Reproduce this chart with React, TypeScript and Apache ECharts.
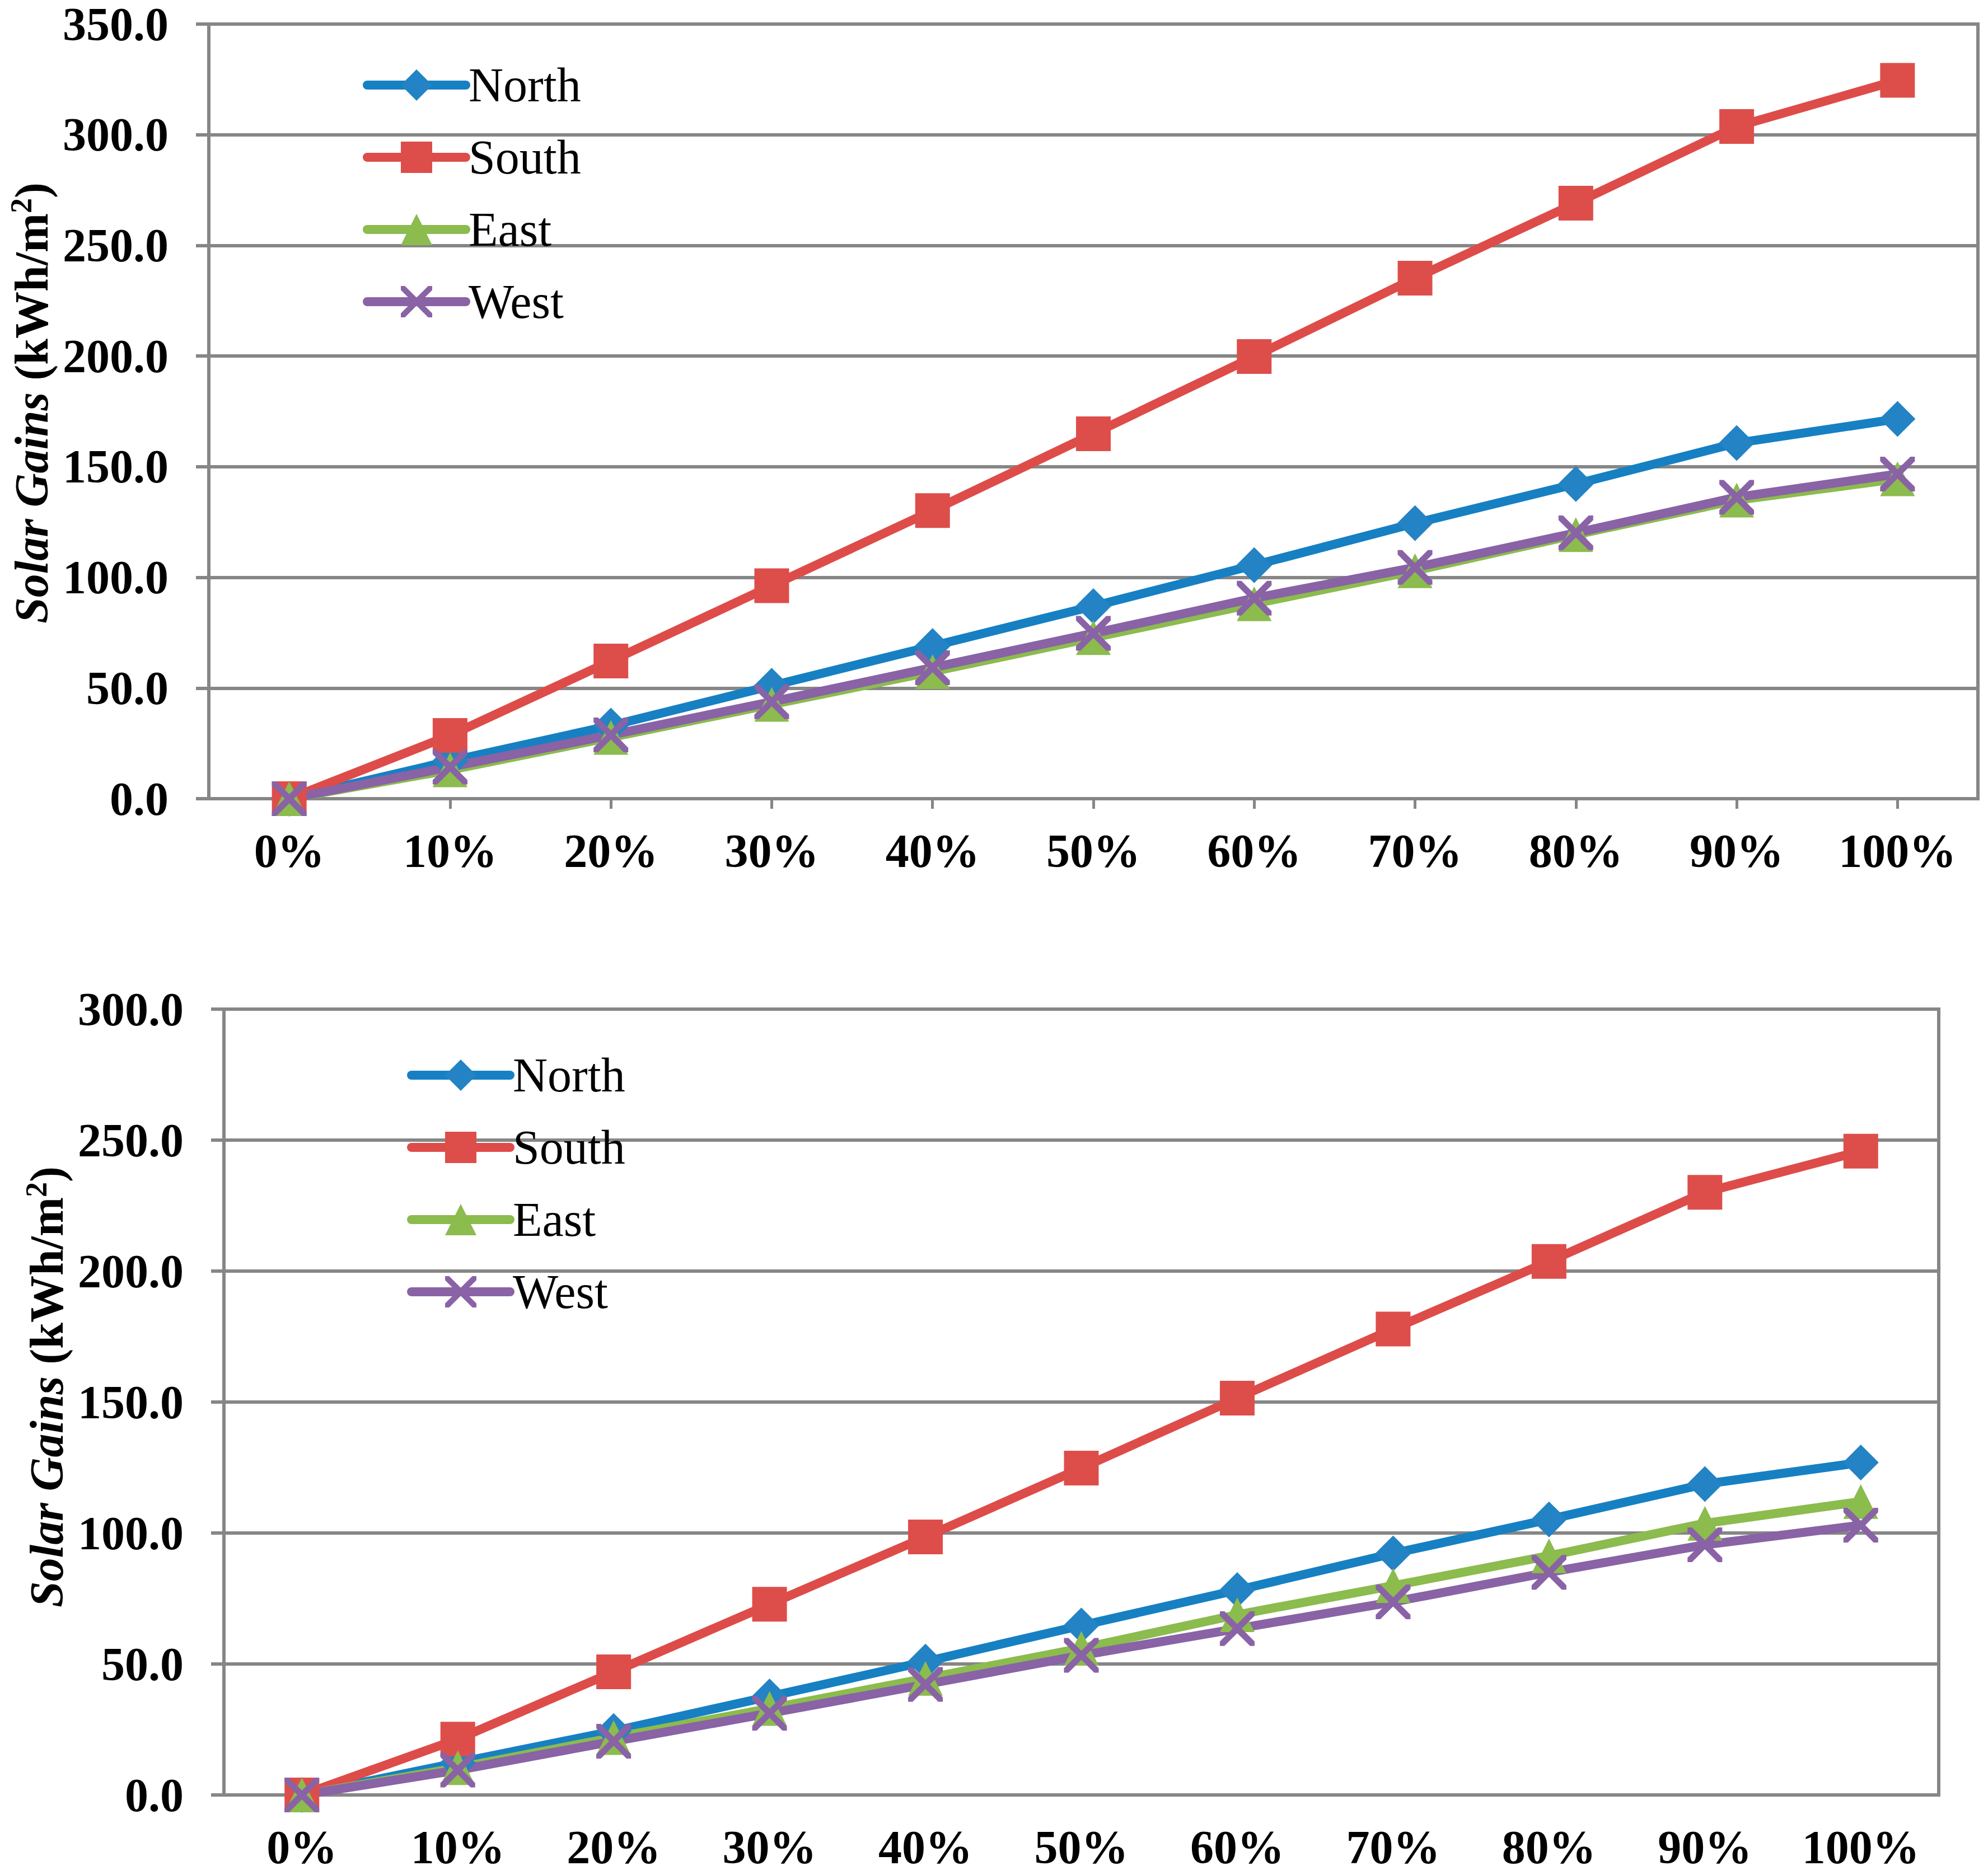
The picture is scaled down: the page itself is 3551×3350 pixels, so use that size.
import React, { useEffect, useRef } from "react";
import * as echarts from "echarts";

const categories = ["0%", "10%", "20%", "30%", "40%", "50%", "60%", "70%", "80%", "90%", "100%"];
const seriesNames = ["North", "South", "East", "West"];

// Top chart values (kWh/m²)
const topNorth = [0, 17.0, 33.0, 51.0, 69.0, 87.0, 105.5, 124.5, 142.2, 160.7, 171.6];
const topSouth = [0, 28.6, 62.2, 96.2, 130.2, 164.9, 199.8, 235.2, 269.1, 303.7, 324.6];
const topEast = [0, 13.0, 27.7, 42.6, 57.4, 72.8, 88.1, 103.0, 119.3, 134.9, 144.5];
const topWest = [0, 14.3, 28.8, 43.8, 59.2, 74.7, 90.6, 104.5, 120.1, 136.2, 146.7];

// Bottom chart values (kWh/m²)
const botNorth = [0, 12.3, 24.4, 37.6, 50.9, 64.7, 78.2, 92.2, 105.2, 118.7, 126.9];
const botSouth = [0, 21.3, 47.0, 72.8, 98.5, 124.8, 151.5, 177.9, 203.7, 230.1, 245.8];
const botEast = [0, 10.4, 21.9, 33.0, 44.5, 56.0, 68.8, 79.9, 91.3, 103.7, 112.0];
const botWest = [0, 9.5, 20.5, 31.2, 42.2, 53.3, 63.5, 73.7, 85.0, 95.5, 103.0];

const topYMax = 350;
const botYMax = 300;
const yInterval = 50;

const FONT = '"Liberation Serif", "Times New Roman", serif';
const GRAY = "#868686";
const X_PATH =
  "path://M0 0 L13 0 L50 37 L87 0 L100 0 L100 13 L63 50 L100 87 L100 100 L87 100 L50 63 L13 100 L0 100 L0 87 L37 50 L0 13 Z";

const styles: Record<string, { line: string; marker: string; symbol: string; size: number }> = {
  North: { line: "#1680C3", marker: "#2383C4", symbol: "diamond", size: 64 },
  South: { line: "#DD4C49", marker: "#DD4E4B", symbol: "rect", size: 62 },
  East: { line: "#8CBB4E", marker: "#8CBB4E", symbol: "triangle", size: 62 },
  West: { line: "#8963A5", marker: "#8963A5", symbol: X_PATH, size: 62 },
};

function mkSeries(name: string, data: number[], idx: number) {
  const s = styles[name];
  return {
    type: "line",
    name,
    data,
    xAxisIndex: idx,
    yAxisIndex: idx,
    symbol: s.symbol,
    symbolSize: s.size,
    lineStyle: { color: s.line, width: 16, cap: "round", join: "round" },
    itemStyle: { color: s.marker },
    emphasis: { disabled: true },
  };
}

function mkXAxis(idx: number, ticks: boolean) {
  return {
    type: "category",
    gridIndex: idx,
    data: categories,
    boundaryGap: true,
    axisLine: { show: true, lineStyle: { color: GRAY, width: 6 } },
    axisTick: { show: ticks, alignWithLabel: true, length: 18, lineStyle: { color: GRAY, width: 5 } },
    axisLabel: { fontFamily: FONT, fontWeight: "bold", fontSize: 84, lineHeight: 70, color: "#000", margin: 58 },
    splitLine: { show: false },
  };
}

function mkYAxis(idx: number, max: number, padLeft: number) {
  return {
    type: "value",
    gridIndex: idx,
    min: 0,
    max,
    interval: yInterval,
    axisLine: { show: true, lineStyle: { color: GRAY, width: 6 } },
    axisTick: { show: true, length: 23, lineStyle: { color: GRAY, width: 6 } },
    axisLabel: {
      fontFamily: FONT,
      fontWeight: "bold",
      fontSize: 84,
      lineHeight: 66,
      color: "#000",
      margin: 72,
      formatter: (v: number) => v.toFixed(1),
    },
    splitLine: { show: true, lineStyle: { color: GRAY, width: 6 } },
    name: "{i|Solar Gains }{b|(kWh/m}{s|2}{b|)}",
    nameLocation: "middle",
    nameRotate: 90,
    nameGap: 272,
    nameTextStyle: {
      padding: [0, 0, 0, padLeft],
      rich: {
        i: { fontFamily: FONT, fontWeight: "bold", fontStyle: "italic", fontSize: 84, color: "#000", lineHeight: 90 },
        b: { fontFamily: FONT, fontWeight: "bold", fontSize: 84, color: "#000", lineHeight: 90 },
        s: { fontFamily: FONT, fontWeight: "bold", fontSize: 54, color: "#000", lineHeight: 90, verticalAlign: "top" },
      },
    },
  };
}

function mkLegend(left: number, top: number) {
  return {
    orient: "vertical",
    left,
    top,
    padding: 0,
    itemWidth: 176,
    itemHeight: 70,
    itemGap: 43,
    data: seriesNames,
    lineStyle: { width: 16, cap: "round" },
    textStyle: { fontFamily: FONT, fontSize: 86, color: "#000", lineHeight: 86 },
    selectedMode: false,
  };
}

export default function App() {
  const ref = useRef<HTMLDivElement>(null);
  useEffect(() => {
    if (!ref.current) return;
    const chart = echarts.init(ref.current, undefined, { renderer: "svg" });
    const option = {
      animation: false,
      backgroundColor: "#fff",
      grid: [
        { left: 373, top: 43, width: 3160, height: 1384, show: true, borderColor: GRAY, borderWidth: 6, containLabel: false },
        { left: 400, top: 1803, width: 3063, height: 1404, show: true, borderColor: GRAY, borderWidth: 6, containLabel: false },
      ],
      legend: [mkLegend(648, 109), mkLegend(727, 1878)],
      xAxis: [mkXAxis(0, true), mkXAxis(1, false)],
      yAxis: [mkYAxis(0, topYMax, 30), mkYAxis(1, botYMax, 54)],
      series: [
        mkSeries("North", topNorth, 0),
        mkSeries("South", topSouth, 0),
        mkSeries("East", topEast, 0),
        mkSeries("West", topWest, 0),
        mkSeries("North", botNorth, 1),
        mkSeries("South", botSouth, 1),
        mkSeries("East", botEast, 1),
        mkSeries("West", botWest, 1),
      ],
    };
    chart.setOption(option as any);
    return () => chart.dispose();
  }, []);
  return (
    <div
      ref={ref}
      style={{ position: "absolute", left: 0, top: 0, width: 3551, height: 3350, background: "#fff" }}
    />
  );
}
